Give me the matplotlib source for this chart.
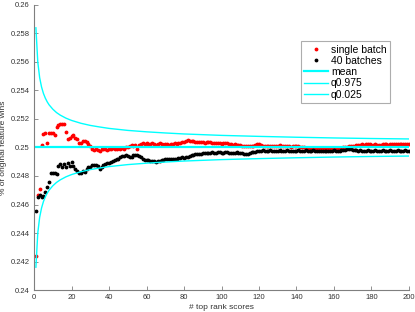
import matplotlib
matplotlib.use("Agg")
import matplotlib.pyplot as plt
import numpy as np

# single batch (red) and 40 batches (black), one value per rank 1..200
single_batch = [
    0.2424, 0.2467, 0.2471, 0.2502, 0.25095, 0.2510, 0.2503, 0.2510, 0.2510, 0.2510,
    0.2509, 0.25146, 0.2516, 0.25165, 0.25167, 0.25167, 0.25107, 0.25062, 0.2507, 0.2508,
    0.2509, 0.25064, 0.25057, 0.25034, 0.25034, 0.25046, 0.25048, 0.2504, 0.25025, 0.2501,
    0.24988, 0.24985, 0.2499, 0.24985, 0.24975, 0.2499, 0.24988, 0.24992, 0.24985, 0.2499,
    0.24988, 0.24995, 0.2499, 0.24987, 0.24993, 0.2499, 0.24995, 0.2499, 0.25, 0.25005,
    0.2501, 0.25015, 0.2501, 0.2502, 0.2499, 0.25018, 0.25022, 0.2503, 0.25028, 0.2503,
    0.25025, 0.25028, 0.2503, 0.25025, 0.2502, 0.25025, 0.2503, 0.25028, 0.2502, 0.25025,
    0.25022, 0.2502, 0.25025, 0.25028, 0.2503, 0.25025, 0.2503, 0.25035, 0.2504, 0.25042,
    0.25046, 0.2505, 0.25048, 0.25045, 0.25043, 0.2504, 0.25042, 0.2504, 0.25038, 0.2504,
    0.25035, 0.25038, 0.2504, 0.25036, 0.25033, 0.25035, 0.2503, 0.25035, 0.25033, 0.25028,
    0.2503, 0.25035, 0.2503, 0.25026, 0.25024, 0.2502, 0.25022, 0.25018, 0.2502, 0.25015,
    0.25012, 0.25014, 0.2501, 0.25008, 0.2501, 0.25012, 0.2501, 0.25015, 0.25022, 0.25025,
    0.2502, 0.25012, 0.2501, 0.25008, 0.2501, 0.25012, 0.2501, 0.25008, 0.2501, 0.25012,
    0.25015, 0.2501, 0.25008, 0.2501, 0.25012, 0.2501, 0.25005, 0.25008, 0.2501, 0.25012,
    0.2501, 0.25005, 0.25, 0.25002, 0.24998, 0.24995, 0.24998, 0.24995, 0.24992, 0.2499,
    0.24992, 0.2499, 0.24988, 0.2499, 0.24988, 0.24986, 0.2499, 0.24988, 0.2499, 0.24988,
    0.2499, 0.24992, 0.24995, 0.24998, 0.25, 0.25003, 0.25005, 0.25008, 0.2501, 0.2501,
    0.25012, 0.25015, 0.25018, 0.2502, 0.25022, 0.2502, 0.25022, 0.25025, 0.25022, 0.2502,
    0.2502, 0.25022, 0.2502, 0.25018, 0.2502, 0.25022, 0.25025, 0.25022, 0.2502, 0.25022,
    0.25025, 0.25028, 0.25025, 0.25022, 0.25025, 0.25028, 0.25025, 0.25025, 0.25022, 0.25025,
]
batches_40 = [
    0.24557, 0.24655, 0.2467, 0.24655, 0.2466, 0.2469, 0.2472, 0.2476, 0.2482, 0.2482,
    0.2482, 0.24815, 0.2487, 0.24885, 0.24865, 0.24885, 0.2486, 0.2489, 0.2487, 0.249,
    0.2487, 0.24848, 0.24833, 0.24823, 0.24823, 0.24835, 0.2483, 0.2485, 0.2486, 0.24865,
    0.24875, 0.2488, 0.24875, 0.2487, 0.24848, 0.2486, 0.24875, 0.24884, 0.2489, 0.24893,
    0.24898, 0.24907, 0.2491, 0.24917, 0.2492, 0.24935, 0.24938, 0.2494, 0.24945, 0.24942,
    0.2493, 0.24935, 0.24945, 0.2495, 0.24945, 0.2494, 0.2493, 0.2492, 0.24915, 0.24912,
    0.2491, 0.24908, 0.24905, 0.24902, 0.249, 0.24905, 0.24908, 0.24912, 0.24915, 0.24916,
    0.24918, 0.2492, 0.24918, 0.2492, 0.24922, 0.2492, 0.24925, 0.24928, 0.2493, 0.24928,
    0.24932, 0.24935, 0.2494, 0.24945, 0.2495, 0.24952, 0.24955, 0.24952, 0.24955, 0.24958,
    0.2496, 0.24962, 0.24963, 0.24962, 0.24965, 0.24963, 0.24962, 0.24965, 0.24966, 0.24964,
    0.24962, 0.24965, 0.24966, 0.24963, 0.2496, 0.24962, 0.24964, 0.24966, 0.24963, 0.2496,
    0.24958, 0.24955, 0.24954, 0.24955, 0.2496, 0.24965, 0.24968, 0.2497, 0.24972, 0.24975,
    0.24978, 0.2498, 0.24978, 0.24976, 0.24978, 0.2498, 0.24978, 0.24976, 0.24975, 0.24978,
    0.2498, 0.24978, 0.24976, 0.24978, 0.2498, 0.24978, 0.24976, 0.24978, 0.24975, 0.24978,
    0.2498, 0.24978, 0.24976, 0.24978, 0.2498, 0.24978, 0.24976, 0.24978, 0.2498, 0.24978,
    0.24976, 0.24978, 0.24976, 0.24975, 0.24977, 0.24978, 0.24976, 0.24975, 0.24978, 0.2498,
    0.24978, 0.24976, 0.24978, 0.2498, 0.24982, 0.24985, 0.24988, 0.2499, 0.24988, 0.24985,
    0.24982, 0.2498, 0.24978, 0.2498, 0.24978, 0.24976, 0.24978, 0.2498, 0.24978, 0.24976,
    0.24978, 0.2498, 0.24978, 0.24976, 0.24978, 0.2498, 0.24978, 0.24976, 0.24978, 0.2498,
    0.24978, 0.24976, 0.24978, 0.2498, 0.24978, 0.24976, 0.24978, 0.2498, 0.24978, 0.24978,
]

# quantile curves read at selected ranks
q_ranks = [1, 2, 3, 4, 5, 6, 7, 8, 10, 12, 14, 17, 20, 25, 30, 35, 40, 50, 60, 70, 80,
           100, 120, 140, 160, 180, 200]
q975 = [0.2584, 0.2560, 0.2549, 0.25425, 0.2538, 0.25347, 0.25321, 0.2530, 0.25269,
        0.25245, 0.25227, 0.25206, 0.2519, 0.2517, 0.25155, 0.25144, 0.25134, 0.2512,
        0.2511, 0.25102, 0.25095, 0.25085, 0.25078, 0.25072, 0.25067, 0.25063, 0.2506]
q025 = [0.2416, 0.2440, 0.2451, 0.24575, 0.2462, 0.24653, 0.24679, 0.2470, 0.24731,
        0.24755, 0.24773, 0.24794, 0.2481, 0.2483, 0.24845, 0.24856, 0.24866, 0.2488,
        0.2489, 0.24898, 0.24905, 0.24915, 0.24922, 0.24928, 0.24933, 0.24937, 0.2494]
mean_x = [0, 200]
mean_y = [0.25, 0.25]

ranks = np.arange(1, len(single_batch) + 1)
gray = '#7f7f7f'
plt.rcParams['font.family'] = ['Liberation Sans', 'DejaVu Sans']

fig = plt.figure(figsize=(4.15, 3.12), dpi=100)
ax = fig.add_axes([0.082, 0.0705, 0.9035, 0.9135])

ax.plot(ranks, single_batch, '.', color='red', markersize=3.5, label='single batch')
ax.plot(ranks, batches_40, '.', color='black', markersize=3.5, label='40 batches')
ax.plot(mean_x, mean_y, color='#00ffff', linewidth=1.6, label='mean')
ax.plot(q_ranks, q975, color='#00ffff', linewidth=1.0, label='q0.975')
ax.plot(q_ranks, q025, color='#00ffff', linewidth=1.0, label='q0.025')

ax.set_xlim(0, 200)
ax.set_ylim(0.24, 0.26)
ax.set_xticks(range(0, 201, 20))
yt = [0.24 + 0.002 * i for i in range(11)]
ax.set_yticks(yt)
ax.set_yticklabels([('%.3f' % v).rstrip('0') for v in yt])

for s in ['top', 'right']:
    ax.spines[s].set_visible(False)
for s in ['left', 'bottom']:
    ax.spines[s].set_color(gray)
    ax.spines[s].set_linewidth(0.8)
ax.tick_params(direction='in', length=3, width=0.6, colors=gray, labelsize=5.5,
               labelcolor='#333333', pad=3)

ax.set_xlabel('# top rank scores', fontsize=6, color='#333333', labelpad=2)
ax.set_ylabel('% of original feature wins', fontsize=6, color='#333333', labelpad=3)

leg = ax.legend(loc='upper right', bbox_to_anchor=(0.949, 0.872), borderaxespad=0,
                fontsize=7.5, frameon=True, fancybox=False, handlelength=2.3,
                handletextpad=0.3, borderpad=0.3, labelspacing=0.12, markerscale=1.0)
leg.get_frame().set_edgecolor('#999999')
leg.get_frame().set_linewidth(0.8)

fig.savefig('out.png', dpi=100)
plt.close(fig)
